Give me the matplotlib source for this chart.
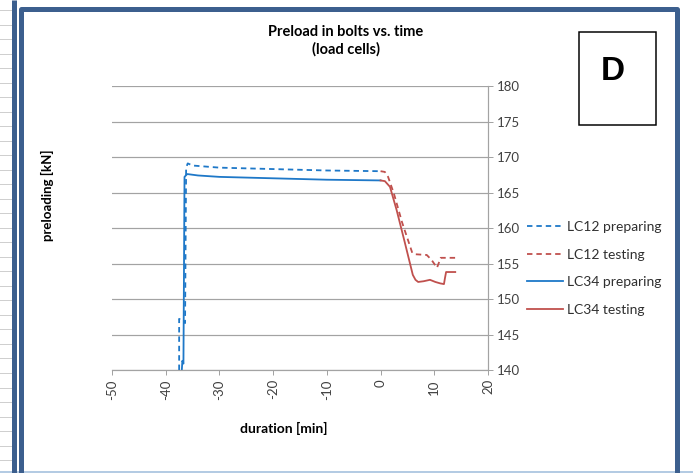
import numpy as np
import matplotlib
matplotlib.use("Agg")
from matplotlib import pyplot as plt
from matplotlib.patches import Rectangle

plt.rcParams['font.family'] = ['Lato', 'DejaVu Sans']

# LC12 preparing (blue dashed)
lc12_prep_x = [-37.5, -37.5, -36.6, -36.4, -36.2, -35.9, -35.0, -30.0, -20.0, -10.0, 0.0]
lc12_prep_y = [140.0, 147.2, 146.8, 146.6, 168.5, 169.1, 168.8, 168.5, 168.3, 168.1, 168.0]

# LC34 preparing (blue solid)
lc34_prep_x = [-37.0, -36.9, -36.7, -36.5, -36.0, -34.0, -30.0, -20.0, -10.0, 0.0]
lc34_prep_y = [140.0, 141.3, 140.9, 167.2, 167.6, 167.4, 167.2, 167.0, 166.8, 166.7]

# LC12 testing (red dashed)
lc12_test_x = [0.0, 0.8, 1.4, 2.5, 4.0, 5.9, 6.5, 8.6, 9.5, 10.5, 11.2, 12.0, 13.9]
lc12_test_y = [168.0, 167.9, 167.2, 164.8, 160.8, 156.5, 156.3, 156.2, 155.5, 154.4, 155.8, 155.8, 155.8]

# LC34 testing (red solid)
lc34_test_x = [0.0, 0.8, 1.75, 3.0, 4.5, 6.0, 6.5, 7.0, 8.0, 9.2, 10.2, 11.1, 11.8, 12.0, 12.2, 13.9]
lc34_test_y = [166.7, 166.6, 165.8, 162.5, 158.0, 153.4, 152.7, 152.4, 152.5, 152.7, 152.4, 152.2, 152.1, 153.0, 153.8, 153.8]

x_ticks = [-50, -40, -30, -20, -10, 0, 10, 20]
y_ticks = [140, 145, 150, 155, 160, 165, 170, 175, 180]

blue = '#1E78C8'
red = '#C0504D'
grid_c = '#A3A3A3'
frame_c = '#3C5F8E'
text_c = '#404040'

W, H = 693, 473
fig = plt.figure(figsize=(W / 100, H / 100), dpi=100)

# background layer in pixel coords: worksheet frame, "D" box
bg = fig.add_axes([0, 0, 1, 1])
bg.set_xlim(0, W)
bg.set_ylim(H, 0)
bg.axis('off')
px = 72 / 100  # one pixel in points
for yy in np.arange(10, 462, 14.52):
    bg.plot([0, 11], [yy, yy], color='#CFCFCF', lw=1 * px)
bg.plot([0, W], [472, 472], color='#B4CBE3', lw=2 * px)
bg.plot([13.5, 13.5], [0, H], color=frame_c, lw=5 * px, solid_capstyle='butt')
bg.plot([20.5, 20.5, 677, 677], [H, 9.5, 9.5, H], color=frame_c, lw=5 * px,
        solid_joinstyle='round', solid_capstyle='butt')
bg.add_patch(Rectangle((579, 32), 77, 93, fill=False, ec='black', lw=1.5 * px))
bg.text(613, 72, 'D', ha='center', va='center', fontsize=24, fontweight='bold',
        family='Liberation Sans')

ax = fig.add_axes([112 / W, 1 - 370 / H, 376 / W, 284 / H])
ax.set_zorder(2)
ax.set_facecolor('none')

dash = (0, (3, 2.2))
ax.plot(lc12_prep_x, lc12_prep_y, color=blue, lw=1.3, ls=dash, label='LC12 preparing')
ax.plot(lc12_test_x, lc12_test_y, color=red, lw=1.3, ls=dash, label='LC12 testing')
ax.plot(lc34_prep_x, lc34_prep_y, color=blue, lw=1.3, label='LC34 preparing')
ax.plot(lc34_test_x, lc34_test_y, color=red, lw=1.3, label='LC34 testing')

ax.set_xlim(-50, 20)
ax.set_ylim(140, 180)
ax.set_xticks(x_ticks)
ax.set_xticklabels([str(v) for v in x_ticks], rotation=90, fontsize=9.5, color=text_c)
ax.set_yticks(y_ticks)
ax.yaxis.tick_right()
ax.set_yticklabels([str(v) for v in y_ticks], fontsize=9.5, color=text_c)
ax.tick_params(axis='both', direction='out', length=5 * px, width=1 * px, color=grid_c)
ax.tick_params(axis='y', pad=3)
ax.tick_params(axis='x', pad=3)
ax.grid(axis='y', color=grid_c, lw=1.2 * px)
ax.set_axisbelow(True)
for s in ['top', 'left']:
    ax.spines[s].set_visible(False)
for s in ['right', 'bottom']:
    ax.spines[s].set_color(grid_c)
    ax.spines[s].set_linewidth(1.2 * px)

fig.text(346 / W, 1 - 41 / H, 'Preload in bolts vs. time\n(load cells)', ha='center', va='center',
         fontsize=10.5, fontweight='bold', linespacing=1.3)
fig.text(47 / W, 1 - 195 / H, 'preloading [kN]', rotation=90, ha='center', va='center',
         fontsize=9.5, fontweight='bold')
fig.text(284 / W, 1 - 428 / H, 'duration [min]', ha='center', va='center',
         fontsize=10, fontweight='bold')

leg = fig.legend(loc='center left', bbox_to_anchor=(527 / W, 1 - 268.5 / H), frameon=False,
                 fontsize=10, handlelength=2.6, handletextpad=0.3, labelspacing=1.12,
                 borderpad=0, borderaxespad=0)
for t in leg.get_texts():
    t.set_color('#303030')

fig.savefig('out.png', dpi=100)
